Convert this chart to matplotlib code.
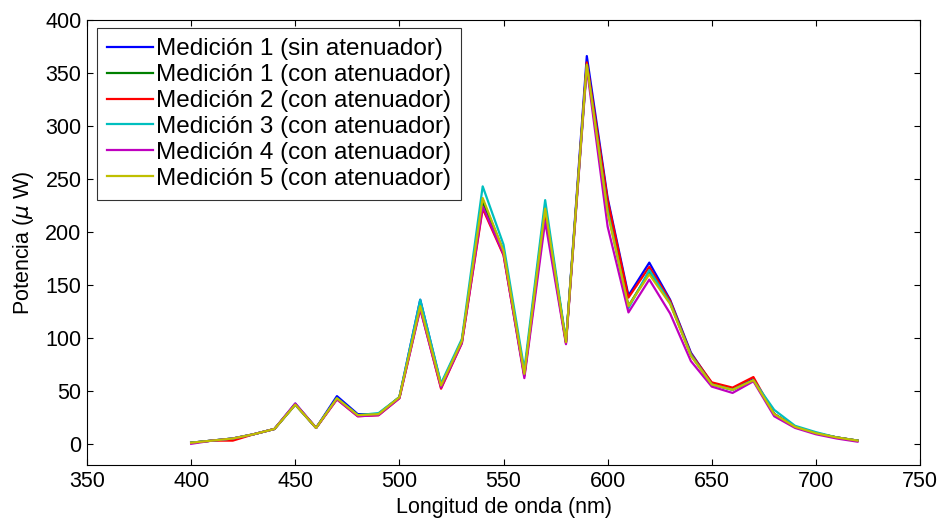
import numpy as np
import matplotlib
matplotlib.use("Agg")
import matplotlib.pyplot as plt

plt.rcParams['font.family'] = ['Liberation Sans', 'DejaVu Sans']

longitud = np.arange(400, 721, 10)

med1_sin = [1, 3, 5, 9, 14, 38, 15, 45, 28, 28, 44, 136, 56, 97, 230, 182, 66,
            224, 96, 366, 232, 140, 171, 136, 86, 57, 52, 61, 28, 16, 10, 6, 3]
med1_con = [1, 3, 5, 9, 14, 37, 15, 43, 27, 28, 44, 130, 55, 97, 228, 181, 65,
            222, 96, 358, 222, 130, 162, 133, 84, 56, 51, 60, 28, 16, 10, 6, 3]
med2_con = [1, 3, 3, 9, 14, 37, 15, 42, 26, 27, 43, 128, 52, 95, 222, 178, 64,
            216, 95, 360, 230, 138, 167, 135, 85, 58, 53, 63, 28, 16, 10, 6, 3]
med3_con = [1, 3, 5, 9, 14, 37, 15, 43, 27, 29, 44, 136, 57, 99, 243, 188, 70,
            230, 97, 357, 220, 128, 164, 133, 84, 56, 51, 60, 32, 17, 11, 6, 3]
med4_con = [0, 3, 5, 9, 14, 38, 15, 42, 26, 27, 43, 127, 53, 95, 224, 179, 62,
            210, 94, 355, 205, 124, 155, 123, 78, 54, 48, 59, 26, 15, 9, 5, 2]
med5_con = [1, 3, 5, 9, 14, 37, 15, 43, 27, 28, 44, 130, 55, 97, 232, 182, 66,
            222, 96, 358, 218, 130, 160, 132, 83, 56, 51, 60, 28, 16, 10, 6, 3]

series = [med1_sin, med1_con, med2_con, med3_con, med4_con, med5_con]
etiquetas = ['Medición 1 (sin atenuador)', 'Medición 1 (con atenuador)',
             'Medición 2 (con atenuador)', 'Medición 3 (con atenuador)',
             'Medición 4 (con atenuador)', 'Medición 5 (con atenuador)']
colores = ['#0000ff', '#008000', '#ff0000', '#00bfbf', '#bf00bf', '#bfbf00']

fig = plt.figure(figsize=(9.43, 5.2), dpi=100)
ax = fig.add_axes([0.0923, 0.1058, 0.8833, 0.8557])

for y, lab, c in zip(series, etiquetas, colores):
    ax.plot(longitud, y, color=c, lw=1.6, label=lab)

ax.set_xlim(350, 750)
ax.set_ylim(-20, 400)
ax.set_xticks(np.arange(350, 751, 50))
ax.set_yticks(np.arange(0, 401, 50))
ax.tick_params(direction='in', top=True, right=True, labelsize=15.5, length=4,
               pad=4)
ax.set_xlabel('Longitud de onda (nm)', fontsize=15.5, labelpad=4)
ax.set_ylabel('Potencia ($\\mu$ W)', fontsize=15.5, labelpad=7)

leg = ax.legend(loc='upper left', bbox_to_anchor=(0.012, 0.982), fontsize=17.5,
                frameon=True, fancybox=False, edgecolor='black',
                handlelength=1.9, handletextpad=0.1, labelspacing=0.16,
                borderpad=0.42, borderaxespad=0)
leg.get_frame().set_linewidth(0.8)

fig.savefig("out.png", dpi=100)
